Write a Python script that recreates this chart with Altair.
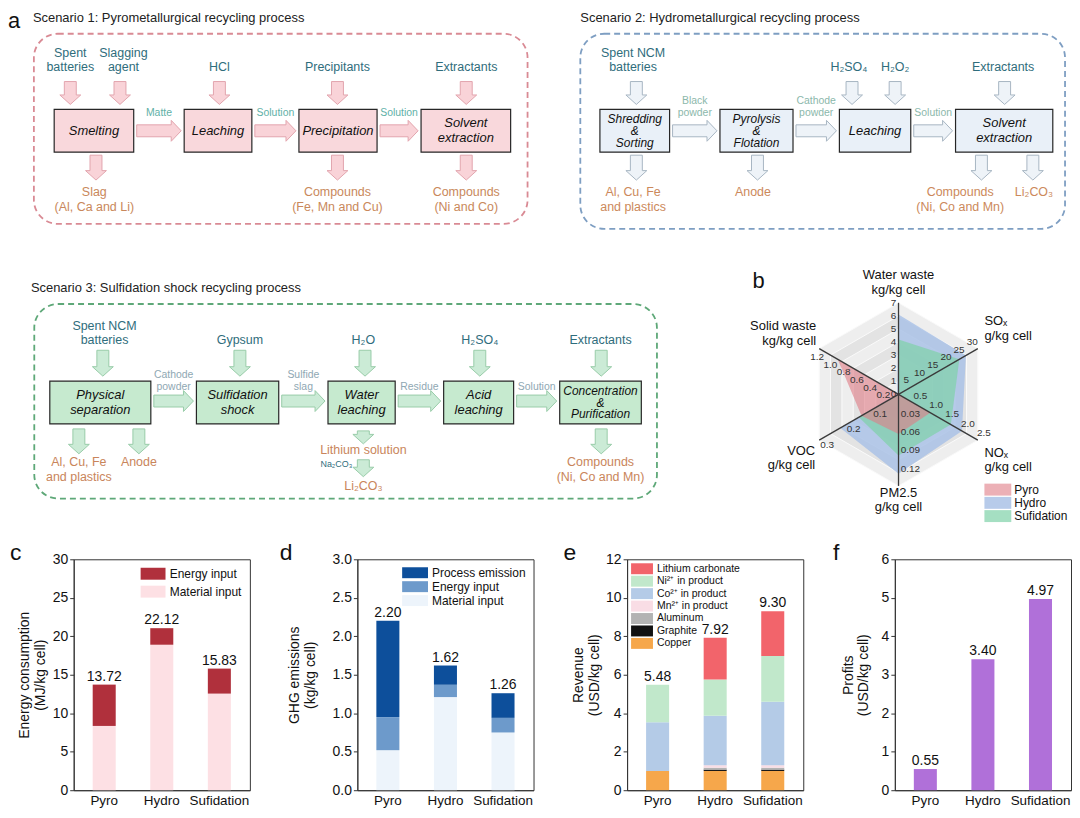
import math
import altair as alt
import pandas as pd

FONT = "Liberation Sans"

# ======================= DATA =======================
scenarios = ["Pyro", "Hydro", "Sufidation"]

# (a) process flow charts: content
s1_title = "Scenario 1: Pyrometallurgical recycling process"
s1_steps = ["Smelting", "Leaching", "Precipitation", "Solvent\nextraction"]
s1_links = ["Matte", "Solution", "Solution"]
s1_inputs = ["Spent\nbatteries", "Slagging\nagent", "HCl", "Precipitants", "Extractants"]
s1_outputs = ["Slag\n(Al, Ca and Li)", "Compounds\n(Fe, Mn and Cu)", "Compounds\n(Ni and Co)"]

s2_title = "Scenario 2: Hydrometallurgical recycling process"
s2_steps = ["Shredding\n&\nSorting", "Pyrolysis\n&\nFlotation", "Leaching", "Solvent\nextraction"]
s2_links = ["Black\npowder", "Cathode\npowder", "Solution"]
s2_inputs = ["Spent NCM\nbatteries", "H₂SO₄", "H₂O₂", "Extractants"]
s2_outputs = ["Al, Cu, Fe\nand plastics", "Anode", "Compounds\n(Ni, Co and Mn)", "Li₂CO₃"]

s3_title = "Scenario 3: Sulfidation shock recycling process"
s3_steps = ["Physical\nseparation", "Sulfidation\nshock", "Water\nleaching", "Acid\nleaching",
            "Concentration\n&\nPurification"]
s3_links = ["Cathode\npowder", "Sulfide\nslag", "Residue", "Solution"]
s3_inputs = ["Spent NCM\nbatteries", "Gypsum", "H₂O", "H₂SO₄", "Extractants"]
s3_outputs = ["Al, Cu, Fe\nand plastics", "Anode", "Lithium solution", "Compounds\n(Ni, Co and Mn)"]
s3_sub_output = "Li₂CO₃"
s3_sub_reagent = "Na₂CO₃"

# (b) radar chart
radar_titles = [["Water waste", "kg/kg cell"], ["SOₓ", "g/kg cell"], ["NOₓ", "g/kg cell"],
                ["PM2.5", "g/kg cell"], ["VOC", "g/kg cell"], ["Solid waste", "kg/kg cell"]]
radar_max = [7, 30, 2.5, 0.15, 0.3, 1.2]
radar_ticks = [[0, 1, 2, 3, 4, 5, 6, 7], [5, 10, 15, 20, 25, 30], [0.5, 1.0, 1.5, 2.0, 2.5],
               [0.03, 0.06, 0.09, 0.12], [0.1, 0.2, 0.3], [0.2, 0.4, 0.6, 0.8, 1.0, 1.2]]
radar_tick_labels = [["0", "1", "2", "3", "4", "5", "6", "7"], ["5", "10", "15", "20", "25", "30"],
                     ["0.5", "1.0", "1.5", "2.0", "2.5"], ["0.03", "0.06", "0.09", "0.12"],
                     ["0.1", "0.2", "0.3"], ["0.2", "0.4", "0.6", "0.8", "1.0", "1.2"]]
radar_series = ["Pyro", "Hydro", "Sufidation"]
radar_pyro = [0.0, 0.0, 1.0, 0.065, 0.14, 0.92]
radar_hydro = [6.1, 25.5, 2.0, 0.13, 0.22, 0.02]
radar_sufid = [4.2, 23.0, 1.65, 0.10, 0.15, 0.0]

# (c) energy consumption (MJ/kg cell)
c_legend = ["Energy input", "Material input"]
c_material = [8.35, 18.9, 12.55]
c_energy = [5.37, 2.15, 3.25]
c_labels = ["13.72", "22.12", "15.83"]

# (d) GHG emissions (kg/kg cell)
d_legend = ["Process emission", "Energy input", "Material input"]
d_material = [0.52, 1.21, 0.75]
d_energy = [0.43, 0.16, 0.19]
d_process = [1.25, 0.25, 0.32]
d_labels = ["2.20", "1.62", "1.26"]

# (e) revenue (USD/kg cell)
e_legend = ["Lithium carbonate", "Ni²⁺ in product", "Co²⁺ in product", "Mn²⁺ in product",
            "Aluminum", "Graphite", "Copper"]
e_copper = [1.00, 1.00, 1.00]
e_graphite = [0.00, 0.07, 0.07]
e_aluminum = [0.00, 0.10, 0.10]
e_mn = [0.00, 0.13, 0.13]
e_co = [2.53, 2.57, 3.30]
e_ni = [1.95, 1.88, 2.38]
e_li = [0.00, 2.17, 2.32]
e_labels = ["5.48", "7.92", "9.30"]

# (f) profits (USD/kg cell)
f_profits = [0.55, 3.40, 4.97]
f_labels = ["0.55", "3.40", "4.97"]

# ======================= LAYOUT / STYLE =======================
ROW_W = 1064
ROW1_H = 236
ROW2_H = 298

L1 = dict(frame=(26, 24, 522, 215), title=(25, 8), letter=(0, 11),
          box_x=[(46.4, 126.3), (177, 245), (292.3, 370.8), (415, 505)], box_y=(100, 143),
          in_label_x=[62.6, 116, 212.4, 331, 460.4], in_arrow_x=[62.6, 112.5, 212.4, 331, 460.4],
          in_label_y=57, in_arrow_y=(72, 95),
          out_arrow_x=[88.4, 331, 460.4], out_label_x=[86.7, 331, 460.4],
          out_arrow_y=[(146, 171)] * 3, out_label_y=[183] * 3,
          link_y=121.5, link_label_y=104)
L2 = dict(frame=(31, 24, 518, 220), title=(31, 8), letter=None,
          box_x=[(50.7, 120.7), (171.3, 244.7), (291.3, 363), (408, 505.7)], box_y=(100, 143),
          in_label_x=[84, 300.8, 347.3, 455.8], in_arrow_x=[87.3, 304, 347.3, 457.3],
          in_label_y=57, in_arrow_y=(72, 95),
          out_arrow_x=[87.3, 209, 434, 485.7], out_label_x=[84, 204.4, 412.7, 486.8],
          out_arrow_y=[(146, 171)] * 4, out_label_y=[183] * 4,
          link_y=121.5, link_label_y=104)
L3 = dict(frame=(26.4, 59.5, 652, 255), title=(23, 43), letter=None,
          box_x=[(42, 143.5), (189.3, 272), (321.5, 389), (437.7, 508), (554.3, 636.3)], box_y=(137, 180),
          in_label_x=[97, 233, 357, 474, 595.3], in_arrow_x=[95.3, 233, 358.7, 474, 596],
          in_label_y=96, in_arrow_y=(106, 132),
          out_arrow_x=[71.2, 131.5, 357, 596], out_label_x=[71.2, 131.5, 357, 595.3],
          out_arrow_y=[(185, 210), (185, 210), (187, 200), (185, 210)], out_label_y=[218, 218, 206, 218],
          link_y=157, link_label_y=143)
P2_X = 544     # left of scenario-2 area within row 1
RADAR_X = 729  # left of radar area within row 2

PAL1 = dict(frame="#d98a94", box="#f9d8dc", afill="#f9d3d8", astroke="#e2a4ad",
            inp="#2f6d7c", link="#5fb1a7", out="#c9885b")
PAL2 = dict(frame="#7e9ec2", box="#e9f0f8", afill="#eef3f8", astroke="#a7b5c3",
            inp="#2f6d7c", link="#8cb8ab", out="#cc895b")
PAL3 = dict(frame="#5ea878", box="#c6eacf", afill="#cbebd6", astroke="#98cca8",
            inp="#2f6d7c", link="#8fa8b3", out="#c9855b")


def pos(W, H):
    xs = alt.Scale(domain=[0, W], nice=False, zero=False)
    ys = alt.Scale(domain=[0, H], nice=False, zero=False, reverse=True)
    return (lambda f: alt.X(f + ":Q", scale=xs, axis=None)), (lambda f: alt.Y(f + ":Q", scale=ys, axis=None))


def sh(df, ox):
    df = df.copy()
    for c in ("x", "x2"):
        if c in df.columns:
            df[c] = df[c] + ox
    return df


def text_rows(labels, xs, ys, lh, mode):
    rows = []
    for lab, x, y in zip(labels, xs, ys):
        parts = lab.split("\n")
        n = len(parts)
        h = lh(n) if callable(lh) else lh
        for i, p in enumerate(parts):
            if mode == "first":
                yy = y + i * h
            elif mode == "last":
                yy = y - (n - 1 - i) * h
            else:
                yy = y + (i - (n - 1) / 2) * h
            rows.append({"x": x, "y": yy, "t": p, "n": n})
    return pd.DataFrame(rows)


def text_mark(df, X, Y, size, color, align="center", style="normal"):
    return alt.Chart(df).mark_text(font=FONT, fontSize=size, color=color, align=align,
                                   baseline="middle", fontStyle=style).encode(
        x=X("x"), y=Y("y"), text="t:N")


def poly_mark(df, X, Y, fill, stroke, sw=1.0, fop=1.0, sop=1.0):
    return alt.Chart(df).mark_line(interpolate="linear-closed", fill=fill, stroke=stroke,
                                   strokeWidth=sw, fillOpacity=fop, strokeOpacity=sop,
                                   strokeJoin="miter").encode(
        x=X("x"), y=Y("y"), detail="id:N", order="o:Q")


def down_arrow(cx, y0, y1, aid, rows, hw=10.5, sw=6.0, hh=9.5):
    pts = [(cx - sw, y0), (cx + sw, y0), (cx + sw, y1 - hh), (cx + hw, y1 - hh), (cx, y1),
           (cx - hw, y1 - hh), (cx - sw, y1 - hh)]
    for o, (x, y) in enumerate(pts):
        rows.append({"id": aid, "o": o, "x": x, "y": y})


def right_arrow(x0, x1, cy, aid, rows, hw=10.5, sw=6.0, hh=10.0):
    pts = [(x0, cy - sw), (x1 - hh, cy - sw), (x1 - hh, cy - hw), (x1, cy), (x1 - hh, cy + hw),
           (x1 - hh, cy + sw), (x0, cy + sw)]
    for o, (x, y) in enumerate(pts):
        rows.append({"id": aid, "o": o, "x": x, "y": y})


def flow_layers(L, X, Y, ox, title, letter, steps, links, inputs, outputs, pal,
                extra_arrows=(), extra_texts=()):
    layers = []
    fx0, fy0, fx1, fy1 = L["frame"]
    layers.append(alt.Chart(sh(pd.DataFrame([{"x": fx0, "x2": fx1, "y": fy0, "y2": fy1}]), ox)).mark_rect(
        fill="white", fillOpacity=0, stroke=pal["frame"], strokeWidth=1.8, strokeDash=[6, 4],
        cornerRadius=24).encode(x=X("x"), x2=alt.X2("x2"), y=Y("y"), y2=alt.Y2("y2")))
    by0, by1 = L["box_y"]
    bdf = pd.DataFrame([{"x": a, "x2": b, "y": by0, "y2": by1} for a, b in L["box_x"]])
    layers.append(alt.Chart(sh(bdf, ox)).mark_rect(fill=pal["box"], stroke="#262626", strokeWidth=1.2).encode(
        x=X("x"), x2=alt.X2("x2"), y=Y("y"), y2=alt.Y2("y2")))
    rows = []
    aid = 0
    for i in range(len(inputs)):
        down_arrow(L["in_arrow_x"][i], L["in_arrow_y"][0], L["in_arrow_y"][1], aid, rows)
        aid += 1
    for i in range(len(outputs)):
        y0, y1 = L["out_arrow_y"][i]
        down_arrow(L["out_arrow_x"][i], y0, y1, aid, rows)
        aid += 1
    for i in range(len(links)):
        right_arrow(L["box_x"][i][1] + 3, L["box_x"][i + 1][0] - 3, L["link_y"], aid, rows)
        aid += 1
    for (cx, y0, y1) in extra_arrows:
        down_arrow(cx, y0, y1, aid, rows)
        aid += 1
    layers.append(poly_mark(sh(pd.DataFrame(rows), ox), X, Y, pal["afill"], pal["astroke"], sw=1.0))
    cy = (by0 + by1) / 2
    bx = [(a + b) / 2 for a, b in L["box_x"]]
    step_df = sh(text_rows(steps, bx, [cy] * len(steps), lambda n: 12 if n == 3 else 15, "center"), ox)
    layers.append(text_mark(step_df[step_df.n < 3], X, Y, 13, "#111111", style="italic"))
    if (step_df.n == 3).any():
        layers.append(text_mark(step_df[step_df.n == 3], X, Y, 12, "#111111", style="italic"))
    layers.append(text_mark(sh(text_rows(inputs, L["in_label_x"], [L["in_label_y"]] * len(inputs), 14,
                                         "last"), ox), X, Y, 12.5, pal["inp"]))
    lx = [(L["box_x"][i][1] + L["box_x"][i + 1][0]) / 2 for i in range(len(links))]
    layers.append(text_mark(sh(text_rows(links, lx, [L["link_label_y"]] * len(links), 12, "last"), ox),
                            X, Y, 10.5, pal["link"]))
    layers.append(text_mark(sh(text_rows(outputs, L["out_label_x"], L["out_label_y"], 15, "first"), ox),
                            X, Y, 12.5, pal["out"]))
    for (t, x, y, size, color, align) in extra_texts:
        layers.append(text_mark(sh(pd.DataFrame([{"x": x, "y": y, "t": t}]), ox), X, Y, size, color,
                                align=align))
    tx, ty = L["title"]
    layers.append(text_mark(sh(pd.DataFrame([{"x": tx, "y": ty, "t": title}]), ox), X, Y, 13, "#222222",
                            align="left"))
    if letter:
        lx0, ly0 = L["letter"]
        layers.append(text_mark(sh(pd.DataFrame([{"x": lx0, "y": ly0, "t": letter}]), ox), X, Y, 22,
                                "#111111", align="left"))
    return layers


def radar_layers(X, Y, ox):
    cx, cy, R = 165.7, 150.3, 92
    angles = [90, 30, -30, -90, 210, 150]

    def pt(frac, ang, dx=0.0, dy=0.0):
        a = math.radians(ang)
        return cx + frac * R * math.cos(a) + dx, cy - frac * R * math.sin(a) + dy

    layers = []
    ring_cols = ["#e3e3e3", "#eeeeee"]
    nring = 7
    for k in range(nring, 0, -1):
        rows = []
        for o, a in enumerate(angles):
            x, y = pt(k / nring, a)
            rows.append({"id": k, "o": o, "x": x, "y": y})
        layers.append(poly_mark(sh(pd.DataFrame(rows), ox), X, Y, ring_cols[k % 2], "#fafafa", sw=1.0))
    series_vals = {"Pyro": radar_pyro, "Hydro": radar_hydro, "Sufidation": radar_sufid}
    series_fill = {"Pyro": "#df7c85", "Hydro": "#aac2e6", "Sufidation": "#7fd2a8"}
    series_op = {"Pyro": 0.6, "Hydro": 0.85, "Sufidation": 0.7}
    for s in ["Hydro", "Sufidation", "Pyro"]:
        rows = []
        for o, (v, m, a) in enumerate(zip(series_vals[s], radar_max, angles)):
            x, y = pt(v / m, a)
            rows.append({"id": s, "o": o, "x": x, "y": y})
        layers.append(poly_mark(sh(pd.DataFrame(rows), ox), X, Y, series_fill[s], series_fill[s], sw=0.5,
                                fop=series_op[s], sop=0.0))
    arows = []
    for a in angles:
        x2, y2 = pt(1.0, a)
        arows.append({"x": cx, "y": cy, "x2": x2, "y2": y2})
    layers.append(alt.Chart(sh(pd.DataFrame(arows), ox)).mark_rule(color="#3a3a3a", strokeWidth=1.3).encode(
        x=X("x"), y=Y("y"), x2=alt.X2("x2"), y2=alt.Y2("y2")))
    offs = [(-5, 0), (-5.5, -6.5), (6, -7.5), (12, 1), (8, 4.5), (-2, 8.5)]
    trows = []
    for ticks, labs, m, a, (dx, dy) in zip(radar_ticks, radar_tick_labels, radar_max, angles, offs):
        for tv, tl in zip(ticks, labs):
            x, y = pt(tv / m, a, dx, dy)
            trows.append({"x": x, "y": y, "t": tl})
    layers.append(text_mark(sh(pd.DataFrame(trows), ox), X, Y, 10, "#333333"))
    tpos = [(165.7, 30.5, "center"), (252, 77, "left"), (252, 209, "left"),
            (165.7, 249, "center"), (82, 207, "right"), (83, 82, "right")]
    for align in ["center", "left", "right"]:
        rows = []
        for lines, (x, y, al) in zip(radar_titles, tpos):
            if al == align:
                for i, ln in enumerate(lines):
                    rows.append({"x": x, "y": y + i * 14.5, "t": ln})
        layers.append(text_mark(sh(pd.DataFrame(rows), ox), X, Y, 13, "#111111", align=align))
    lrows, ltext = [], []
    for i, s in enumerate(radar_series):
        y0 = 240 + i * 13.3
        lrows.append({"x": 252, "x2": 279, "y": y0, "y2": y0 + 12, "s": s})
        ltext.append({"x": 282, "y": y0 + 6, "t": s})
    ldf = sh(pd.DataFrame(lrows), ox)
    for s in radar_series:
        layers.append(alt.Chart(ldf[ldf.s == s]).mark_rect(fill=series_fill[s], fillOpacity=series_op[s]).encode(
            x=X("x"), x2=alt.X2("x2"), y=Y("y"), y2=alt.Y2("y2")))
    layers.append(text_mark(sh(pd.DataFrame(ltext), ox), X, Y, 12, "#111111", align="left"))
    layers.append(text_mark(sh(pd.DataFrame([{"x": 19, "y": 36, "t": "b"}]), ox), X, Y, 22, "#111111",
                            align="left"))
    return layers


X1, Y1 = pos(ROW_W, ROW1_H)
row1 = alt.layer(
    *flow_layers(L1, X1, Y1, 0, s1_title, "a", s1_steps, s1_links, s1_inputs, s1_outputs, PAL1),
    *flow_layers(L2, X1, Y1, P2_X, s2_title, None, s2_steps, s2_links, s2_inputs, s2_outputs, PAL2),
).properties(width=ROW_W, height=ROW1_H)

X2, Y2 = pos(ROW_W, ROW2_H)
row2 = alt.layer(
    *flow_layers(L3, X2, Y2, 0, s3_title, None, s3_steps, s3_links, s3_inputs, s3_outputs, PAL3,
                 extra_arrows=[(357, 216, 233)],
                 extra_texts=[(s3_sub_output, 357, 242, 12.5, "#c9855b", "center"),
                              (s3_sub_reagent, 346, 220, 9, "#2f6d7c", "right")]),
    *radar_layers(X2, Y2, RADAR_X),
).properties(width=ROW_W, height=ROW2_H)


# ======================= BAR CHARTS (c-f) =======================
def rect_path(half_h):
    return "M-2,-{h}L2,-{h}L2,{h}L-2,{h}Z".format(h=half_h)


def bar_panel(letter, stack_names, stack_vals, legend_names, colors, ytitle, ymax, ystep, yfmt, labels,
              yextent, legend=None, single_color=None):
    field = "series_" + letter
    rows = []
    for si, (nm, vals) in enumerate(zip(stack_names, stack_vals)):
        for ci, cat in enumerate(scenarios):
            rows.append({"cat": cat, field: nm, "value": vals[ci], "ord": si})
    df = pd.DataFrame(rows)
    totals = [round(sum(v[i] for v in stack_vals), 4) for i in range(len(scenarios))]
    tdf = pd.DataFrame({"cat": scenarios, "total": totals, "label": labels})
    nt = int(round(ymax / ystep))
    ticks = [round(i * ystep, 6) for i in range(nt + 1)]
    xe = alt.X("cat:N", sort=scenarios, title=None,
               scale=alt.Scale(paddingInner=0.6, paddingOuter=0.33),
               axis=alt.Axis(labelAngle=0, ticks=False, labelFontSize=13.5, labelPadding=3))
    ysc = alt.Scale(domain=[0, ymax], nice=False, zero=True)
    yax = alt.Axis(values=ticks, format=yfmt, title=ytitle, labelFontSize=14, titleFontSize=14,
                   titleLineHeight=16, titlePadding=4, tickSize=4, labelPadding=2,
                   minExtent=yextent, maxExtent=yextent)
    if single_color is not None:
        color = alt.value(single_color)
    else:
        color = alt.Color(field + ":N", scale=alt.Scale(domain=legend_names, range=colors), legend=legend)
    bars = alt.Chart(df).mark_bar().encode(
        x=xe, y=alt.Y("value:Q", stack="zero", scale=ysc, axis=yax), color=color,
        order=alt.Order("ord:Q", sort="ascending"))
    txt = alt.Chart(tdf).mark_text(dy=-8, fontSize=14, font=FONT, color="#111111").encode(
        x=xe, y=alt.Y("total:Q", scale=ysc, axis=yax), text="label:N")
    return alt.layer(bars, txt).properties(
        width=177, height=232,
        title=alt.TitleParams(text=letter, anchor="start", frame="bounds", dx=-8, offset=-13,
                              fontSize=23, font=FONT, fontWeight="normal", color="#111111"),
        view=alt.ViewBackground(stroke="#333333", strokeWidth=1))


def legend(orient, sym_w, sym_h, font_size, row_pad, offset):
    s = sym_w / 2.0
    return alt.Legend(title=None, orient=orient, offset=offset, symbolType=rect_path(round(sym_h / s, 3)),
                      symbolSize=s * s, symbolOffset=s / 2.0, labelOffset=s / 2.0 + 4,
                      labelFontSize=font_size, rowPadding=row_pad, symbolStrokeWidth=0, padding=0)


leg_c = legend("top-right", 25, 12, 12, 5, 8)
leg_d = legend("top-right", 26, 11, 12, 1, 7)
leg_e = legend("top-left", 22, 11, 10.5, 1.5, 4)

pc = bar_panel("c", ["Material input", "Energy input"], [c_material, c_energy], c_legend,
               ["#b0303c", "#fde0e4"], ["Energy consumption", "(MJ/kg cell)"], 30, 5, "d", c_labels,
               22, leg_c)
pd_ = bar_panel("d", ["Material input", "Energy input", "Process emission"], [d_material, d_energy, d_process],
                d_legend, ["#0d4f9b", "#6d9acb", "#edf4fb"], ["GHG emissions", "(kg/kg cell)"], 3.0, 0.5,
                ".1f", d_labels, 36, leg_d)
pe = bar_panel("e", ["Copper", "Graphite", "Aluminum", "Mn²⁺ in product", "Co²⁺ in product", "Ni²⁺ in product",
                     "Lithium carbonate"],
               [e_copper, e_graphite, e_aluminum, e_mn, e_co, e_ni, e_li], e_legend,
               ["#f2646b", "#c1e8cb", "#b4cbe7", "#f9dde5", "#b3b3b3", "#111111", "#f6a74b"],
               ["Revenue", "(USD/kg cell)"], 12, 2, "d", e_labels, 22, leg_e)
pf = bar_panel("f", ["Profits"], [f_profits], ["Profits"], ["#b070d9"], ["Profits", "(USD/kg cell)"],
               6, 1, "d", f_labels, 20, single_color="#b070d9")

bars_row = alt.hconcat(pc, pd_, pe, pf, spacing=28).resolve_scale(color="independent")
# a 1-px spacer so that the bar row's left-hand axes are laid out inside the figure
spacer = alt.Chart(pd.DataFrame({"t": [""]})).mark_text().encode(text="t:N").properties(width=1, height=1)
row3 = alt.hconcat(spacer, bars_row, spacing=0).resolve_scale(color="independent")

chart = alt.vconcat(row1, row2, row3, spacing=0).resolve_scale(color="independent").properties(
    padding=0).configure_view(strokeWidth=0).configure_axis(
    labelFont=FONT, titleFont=FONT, labelColor="#111111", titleColor="#111111", titleFontWeight="normal",
    domainColor="#333333", tickColor="#333333", grid=False).configure_legend(
    labelFont=FONT, labelColor="#111111").configure_title(font=FONT)

chart.save("out.html", embed_options={"renderer": "svg", "actions": False})
